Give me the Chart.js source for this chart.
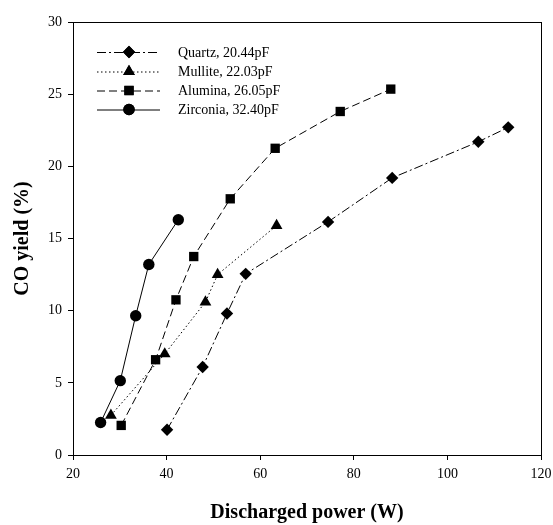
<!DOCTYPE html>
<html lang="en">
<head>
<meta charset="UTF-8">
<script src="https://cdn.jsdelivr.net/npm/chart.js"></script>
<title>CO yield</title>
<style>
  html, body { margin: 0; padding: 0; background: #fff; }
</style>
</head>
<body>
<div style="width:553px;height:525px;">
  <canvas id="chart" width="553" height="525"></canvas>
</div>
<script>
// values
var quartzX = [40.1, 47.7, 52.9, 56.9, 74.5, 88.2, 106.6, 113.0];
var quartzY = [1.75, 6.1, 9.8, 12.55, 16.15, 19.2, 21.7, 22.7];
var mulliteX = [28.1, 39.6, 48.3, 50.9, 63.5];
var mulliteY = [2.75, 7.0, 10.6, 12.5, 15.9];
var aluminaX = [30.3, 37.65, 42.0, 45.8, 53.6, 63.2, 77.1, 87.9];
var aluminaY = [2.05, 6.6, 10.75, 13.75, 17.75, 21.25, 23.8, 25.35];
var zirconiaX = [25.9, 30.1, 33.4, 36.2, 42.5];
var zirconiaY = [2.25, 5.15, 9.65, 13.2, 16.3];

var seriesNames = ['Quartz, 20.44pF', 'Mullite, 22.03pF', 'Alumina, 26.05pF', 'Zirconia, 32.40pF'];
var xTicks = [20, 40, 60, 80, 100, 120];
var yTicks = [0, 5, 10, 15, 20, 25, 30];

var serif = '"Liberation Serif", "Times New Roman", serif';

function pts(xs, ys) {
    return xs.map(function (x, i) { return { x: x, y: ys[i] }; });
}

var styles = [
    { dash: [9, 3, 2, 3], marker: 'rectRot', r: 6.2 },
    { dash: [1.5, 2.5], marker: 'triangle', r: 6.8 },
    { dash: [8, 4], marker: 'rect', r: 6.6 },
    { dash: [], marker: 'circle', r: 5.7 }
];

var allX = [quartzX, mulliteX, aluminaX, zirconiaX];
var allY = [quartzY, mulliteY, aluminaY, zirconiaY];

var datasets = seriesNames.map(function (name, i) {
    return {
        label: name,
        data: pts(allX[i], allY[i]),
        borderColor: '#000',
        backgroundColor: '#000',
        borderWidth: 1,
        borderDash: styles[i].dash,
        pointStyle: styles[i].marker,
        pointRadius: styles[i].r,
        pointHoverRadius: styles[i].r,
        pointBorderWidth: 0,
        pointBackgroundColor: '#000',
        tension: 0,
        fill: false
    };
});

// box round the plot and the legend inside it
var framePlugin = {
    id: 'frame',
    afterDraw: function (chart) {
        var ctx = chart.ctx, a = chart.chartArea;
        ctx.save();
        ctx.strokeStyle = '#000';
        ctx.lineWidth = 1;
        ctx.setLineDash([]);
        ctx.strokeRect(a.left + 0.5, a.top + 0.5, a.right - a.left, a.bottom - a.top);

        // legend
        var x0 = 97, x1 = 160, mx = 129, tx = 178;
        var rows = [52, 71.5, 90.5, 109.5];
        ctx.font = '14px ' + serif;
        ctx.textBaseline = 'middle';
        ctx.fillStyle = '#000';
        seriesNames.forEach(function (name, i) {
            var y = rows[i];
            ctx.setLineDash(styles[i].dash);
            ctx.beginPath();
            ctx.moveTo(x0, y + 0.5);
            ctx.lineTo(x1, y + 0.5);
            ctx.stroke();
            ctx.setLineDash([]);
            Chart.helpers.drawPoint(ctx, {
                pointStyle: styles[i].marker,
                radius: styles[i].r,
                borderWidth: 0
            }, mx, y);
            ctx.fill();
            ctx.fillText(name, tx, y + 1);
        });
        ctx.restore();
    }
};

new Chart(document.getElementById('chart').getContext('2d'), {
    type: 'line',
    data: { datasets: datasets },
    options: {
        responsive: false,
        animation: false,
        events: [],
        layout: { padding: { top: 22, right: 12, left: 0, bottom: 0 } },
        plugins: {
            legend: { display: false },
            tooltip: { enabled: false }
        },
        scales: {
            x: {
                type: 'linear',
                min: 20,
                max: 120,
                afterBuildTicks: function (s) { s.ticks = xTicks.map(function (v) { return { value: v }; }); },
                afterFit: function (s) {
                    s.height = 70;
                    s.paddingLeft = 0;
                    s.paddingRight = 0;
                },
                border: { display: true, color: '#000', width: 1 },
                grid: { display: true, drawOnChartArea: false, drawTicks: true, tickLength: 5, color: '#000' },
                ticks: { color: '#000', font: { family: serif, size: 14 }, padding: 6, maxRotation: 0 },
                title: {
                    display: true,
                    text: 'Discharged power (W)',
                    color: '#000',
                    font: { family: serif, size: 20, weight: 'bold' },
                    padding: { top: 0, bottom: 0 }
                }
            },
            y: {
                type: 'linear',
                min: 0,
                max: 30,
                afterBuildTicks: function (s) { s.ticks = yTicks.map(function (v) { return { value: v }; }); },
                afterFit: function (s) {
                    s.width = 73;
                    s.paddingTop = 0;
                    s.paddingBottom = 0;
                },
                border: { display: true, color: '#000', width: 1 },
                grid: { display: true, drawOnChartArea: false, drawTicks: true, tickLength: 5, color: '#000' },
                ticks: { color: '#000', font: { family: serif, size: 14 }, padding: 6 },
                title: {
                    display: true,
                    text: 'CO yield (%)',
                    color: '#000',
                    font: { family: serif, size: 20, weight: 'bold' },
                    padding: { top: 11, bottom: 0 }
                }
            }
        }
    },
    plugins: [framePlugin]
});
</script>
</body>
</html>
